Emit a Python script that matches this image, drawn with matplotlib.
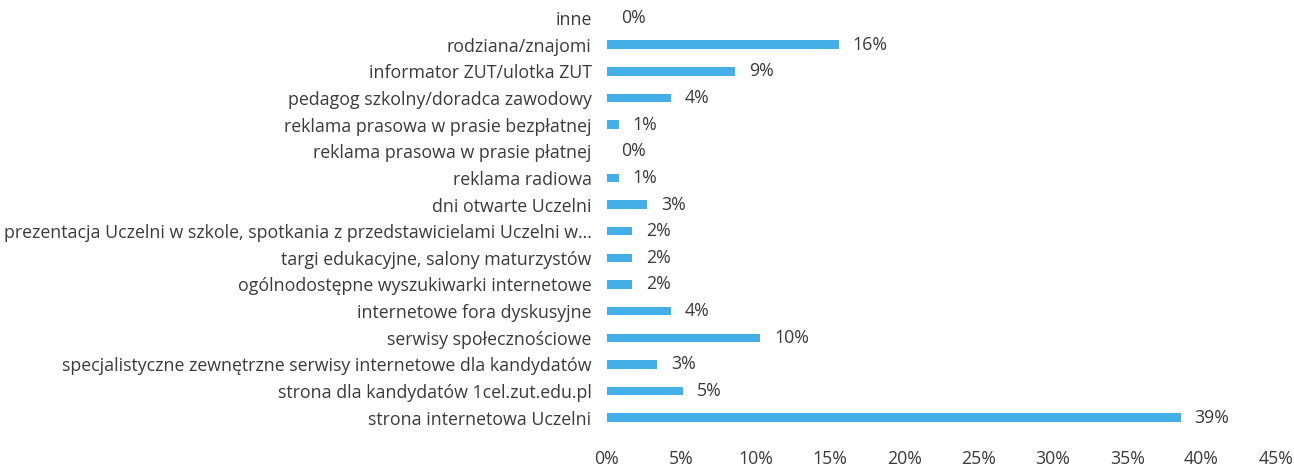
import matplotlib
matplotlib.use("Agg")
import matplotlib.pyplot as plt

# top to bottom as shown in the chart
categories = [
    "inne",
    "rodziana/znajomi",
    "informator ZUT/ulotka ZUT",
    "pedagog szkolny/doradca zawodowy",
    "reklama prasowa w prasie bezpłatnej",
    "reklama prasowa w prasie płatnej",
    "reklama radiowa",
    "dni otwarte Uczelni",
    "prezentacja Uczelni w szkole, spotkania z przedstawicielami Uczelni w...",
    "targi edukacyjne, salony maturzystów",
    "ogólnodostępne wyszukiwarki internetowe",
    "internetowe fora dyskusyjne",
    "serwisy społecznościowe",
    "specjalistyczne zewnętrzne serwisy internetowe dla kandydatów",
    "strona dla kandydatów 1cel.zut.edu.pl",
    "strona internetowa Uczelni",
]
values = [0.0, 15.6, 8.6, 4.3, 0.8, 0.0, 0.8, 2.7, 1.7, 1.7, 1.7, 4.3, 10.3, 3.4, 5.1, 38.6]
xticks = [0, 5, 10, 15, 20, 25, 30, 35, 40, 45]

plt.rcParams['font.family'] = ['Open Sans', 'DejaVu Sans']
txt = '#3a3a3a'
fs = 12.8

fig = plt.figure(figsize=(12.94, 4.66), dpi=100)
ax = fig.add_axes([0.469, 0.075, 0.517, 0.915])

y = list(range(len(categories)))[::-1]
ax.barh(y, values, height=0.32, color='#43afe6')
for yi, v in zip(y, values):
    ax.annotate(f"{v:.0f}%", (v, yi), xytext=(10, 0), textcoords='offset points',
                va='center', ha='left', fontsize=fs, color=txt)

ax.set_xlim(0, 45)
ax.set_ylim(-0.5, len(categories) - 0.5)
ax.set_yticks(y)
ax.set_yticklabels(categories, fontsize=fs, color=txt)
ax.set_xticks(xticks)
ax.set_xticklabels([f"{t}%" for t in xticks], fontsize=fs, color=txt)
ax.tick_params(length=0)
ax.tick_params(axis='y', pad=11)
ax.tick_params(axis='x', pad=14)
for s in ax.spines.values():
    s.set_visible(False)

fig.savefig("out.png", dpi=100)
